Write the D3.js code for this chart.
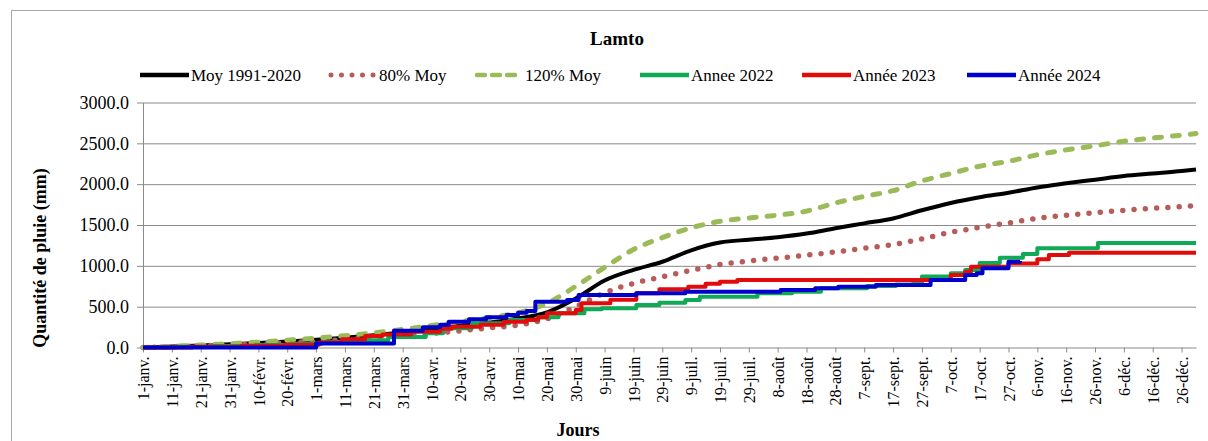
<!DOCTYPE html>
<html>
<head>
<meta charset="utf-8">
<script src="https://cdnjs.cloudflare.com/ajax/libs/d3/7.8.5/d3.min.js"></script>
<style>
  body { margin: 0; background: #fff; }
  svg { display: block; }
  svg text { font-family: "Liberation Serif", "Times New Roman", serif; }
</style>
</head>
<body>
<div id="chart"></div>
<script>
// x categories : day of year (leap year, 366 days)
const tickDays = [1, 11, 21, 31, 41, 51, 61, 71, 81, 91, 101, 111, 121, 131, 141, 151, 161, 171, 181,
  191, 201, 211, 221, 231, 241, 251, 261, 271, 281, 291, 301, 311, 321, 331, 341, 351, 361];
const tickLabels = ["1-janv.", "11-janv.", "21-janv.", "31-janv.", "10-févr.", "20-févr.", "1-mars",
  "11-mars", "21-mars", "31-mars", "10-avr.", "20-avr.", "30-avr.", "10-mai", "20-mai", "30-mai",
  "9-juin", "19-juin", "29-juin", "9-juil.", "19-juil.", "29-juil.", "8-août", "18-août", "28-août",
  "7-sept.", "17-sept.", "27-sept.", "7-oct.", "17-oct.", "27-oct.", "6-nov.", "16-nov.", "26-nov.",
  "6-déc.", "16-déc.", "26-déc."];
const yTicks = [0, 500, 1000, 1500, 2000, 2500, 3000];

// reference curves, sampled every 10 days (+ last day)
const refDays = [1, 11, 21, 31, 41, 51, 61, 71, 81, 91, 101, 111, 121, 131, 141, 151, 161, 171, 181,
  191, 201, 211, 221, 231, 241, 251, 261, 271, 281, 291, 301, 311, 321, 331, 341, 351, 361, 366];
const moy = [0, 12, 25, 40, 55, 75, 95, 120, 150, 185, 225, 265, 305, 355, 430, 600, 820, 950, 1050,
  1190, 1285, 1320, 1350, 1395, 1460, 1520, 1580, 1680, 1770, 1840, 1895, 1960, 2010, 2055, 2100,
  2130, 2160, 2180];
const moy80 = [0, 10, 20, 32, 44, 60, 76, 96, 120, 145, 172, 205, 240, 275, 350, 500, 670, 785, 865,
  945, 1015, 1060, 1095, 1130, 1170, 1215, 1260, 1330, 1410, 1470, 1525, 1580, 1620, 1650, 1680,
  1705, 1725, 1740];
const moy120 = [0, 15, 30, 48, 66, 90, 115, 145, 180, 222, 270, 318, 366, 425, 540, 750, 980, 1200,
  1345, 1465, 1545, 1585, 1620, 1670, 1770, 1850, 1920, 2040, 2130, 2220, 2280, 2360, 2420, 2470,
  2525, 2565, 2600, 2620];

// yearly cumulative totals: [day, mm] at each step
const an2022 = [[1, 0], [12, 8], [25, 18], [40, 30], [52, 45], [63, 65], [74, 90], [86, 130], [99, 175],
  [105, 235], [115, 296], [128, 337], [138, 370], [145, 418], [154, 467], [160, 480], [172, 520],
  [180, 549], [189, 582], [194, 622], [214, 663], [226, 683], [236, 725], [252, 753], [262, 770],
  [268, 786], [271, 870], [281, 908], [286, 949], [291, 1035], [298, 1100], [306, 1145], [311, 1215],
  [332, 1280], [366, 1280]];
const an2023 = [[1, 0], [18, 8], [35, 20], [50, 35], [62, 60], [70, 100], [78, 140], [84, 160], [94, 194],
  [104, 230], [108, 255], [118, 280], [126, 316], [134, 340], [138, 370], [141, 418], [151, 459],
  [153, 541], [163, 585], [172, 663], [180, 712], [190, 745], [196, 780], [201, 806], [207, 826],
  [281, 888], [286, 928], [288, 990], [301, 1030], [311, 1080], [315, 1133], [322, 1160], [366, 1160]];
const an2024 = [[1, 0], [61, 50], [88, 205], [98, 247], [104, 280], [107, 316], [114, 345], [120, 370],
  [127, 398], [131, 426], [134, 447], [137, 561], [148, 582], [152, 643], [172, 663], [189, 683],
  [222, 704], [234, 725], [242, 745], [255, 765], [274, 826], [286, 888], [290, 910], [292, 970],
  [301, 1050], [305, 1060]];

const W = 1208, H = 441;
const serif = "'Liberation Serif', 'Times New Roman', serif";
const x = d3.scaleLinear().domain([1, 366]).range([143, 1196]);
const y = d3.scaleLinear().domain([0, 3000]).range([347.5, 102.5]);

const svg = d3.select("#chart").append("svg").attr("width", W).attr("height", H);

// chart frame
svg.append("rect").attr("x", 11.5).attr("y", 10.5).attr("width", 1230).attr("height", 470)
  .attr("fill", "none").attr("stroke", "#a8a8a8");

// gridlines
svg.append("g").attr("transform", "translate(143,0)")
  .call(d3.axisLeft(y).tickValues(yTicks.slice(1)).tickSize(-(1196 - 143)).tickFormat(""))
  .call(g => g.select(".domain").remove())
  .call(g => g.selectAll("line").attr("stroke", "#8a8a8a"));

// y axis
svg.append("g").attr("transform", "translate(143,0)")
  .call(d3.axisLeft(y).tickValues(yTicks).tickFormat(d3.format(".1f")).tickSize(6).tickSizeOuter(0).tickPadding(8))
  .attr("font-family", serif).attr("font-size", 18)
  .call(g => g.select(".domain").attr("stroke", "#8a8a8a"))
  .call(g => g.selectAll("line").attr("stroke", "#8a8a8a"))
  .call(g => g.selectAll("text").attr("fill", "#000"));

// x axis
svg.append("g").attr("transform", "translate(0,347.5)")
  .call(d3.axisBottom(x).tickValues(tickDays).tickFormat((d, i) => tickLabels[i]).tickSize(5).tickSizeOuter(0))
  .attr("font-family", serif).attr("font-size", 16)
  .call(g => g.select(".domain").attr("stroke", "#8a8a8a"))
  .call(g => g.selectAll("line").attr("stroke", "#8a8a8a"))
  .call(g => g.selectAll("text").attr("fill", "#000")
    .attr("transform", "rotate(-90)").attr("text-anchor", "end")
    .attr("x", -9).attr("y", 0).attr("dy", "0.35em"));

// titles
svg.append("text").attr("x", 617).attr("y", 45).attr("text-anchor", "middle")
  .attr("font-family", serif).attr("font-size", 19).attr("font-weight", "bold").text("Lamto");
svg.append("text").attr("transform", "translate(45.5,258) rotate(-90)").attr("text-anchor", "middle")
  .attr("font-family", serif).attr("font-size", 18).attr("font-weight", "bold").text("Quantité de pluie (mm)");
svg.append("text").attr("x", 578).attr("y", 436).attr("text-anchor", "middle")
  .attr("font-family", serif).attr("font-size", 18).attr("font-weight", "bold").text("Jours");

// series
const series = [
  { name: "Moy 1991-2020", color: "#000", width: 4, dash: null, pts: refDays.map((d, i) => [d, moy[i]]), curve: d3.curveMonotoneX },
  { name: "80% Moy", color: "#b85c5a", width: 5.5, dash: "0 11.3", pts: refDays.map((d, i) => [d, moy80[i]]), curve: d3.curveMonotoneX },
  { name: "120% Moy", color: "#9bbb59", width: 5, dash: "7 11", pts: refDays.map((d, i) => [d, moy120[i]]), curve: d3.curveMonotoneX },
  { name: "Annee 2022", color: "#10a955", width: 4, dash: null, pts: an2022, curve: d3.curveStepAfter },
  { name: "Année 2023", color: "#e20b0b", width: 4, dash: null, pts: an2023, curve: d3.curveStepAfter },
  { name: "Année 2024", color: "#0000cc", width: 4, dash: null, pts: an2024, curve: d3.curveStepAfter }
];

series.forEach(s => {
  const line = d3.line().x(p => x(p[0])).y(p => y(p[1])).curve(s.curve);
  svg.append("path").datum(s.pts).attr("d", line)
    .attr("fill", "none").attr("stroke", s.color).attr("stroke-width", s.width)
    .attr("stroke-linecap", s.dash ? "round" : "butt").attr("stroke-linejoin", "round")
    .attr("stroke-dasharray", s.dash);
});

// legend
const legX = [140, 328, 474, 640, 802, 967];
const leg = svg.append("g").selectAll("g").data(series).join("g")
  .attr("transform", (d, i) => "translate(" + legX[i] + ",75)");
leg.append("line").attr("x1", d => d.dash ? 3 : 0).attr("x2", d => d.dash ? 46 : 49)
  .attr("stroke", d => d.color).attr("stroke-width", d => d.dash ? d.width - 0.5 : 4.5)
  .attr("stroke-linecap", d => d.dash ? "round" : "butt")
  .attr("stroke-dasharray", d => d.dash ? (d.width > 5 ? "0 10.5" : "8 7") : null);
leg.append("text").attr("x", 51).attr("dy", "0.35em")
  .attr("font-family", serif).attr("font-size", 17).text(d => d.name);
</script>
</body>
</html>
